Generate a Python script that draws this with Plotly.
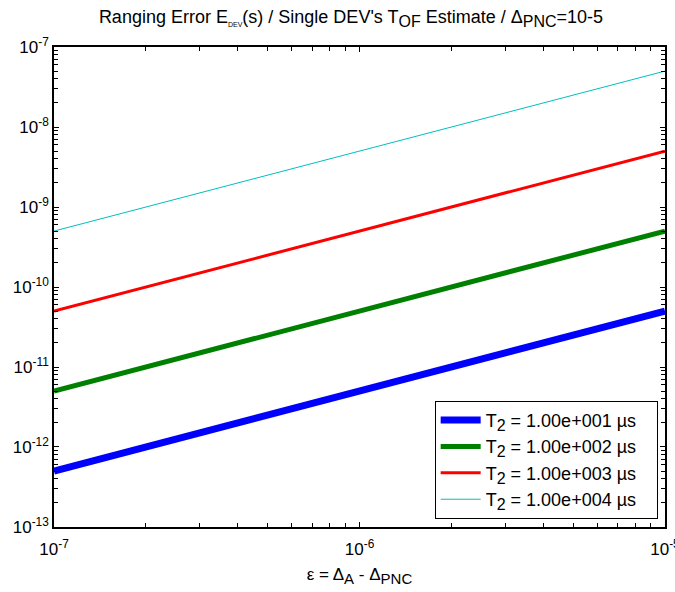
import plotly.graph_objects as go

# Mismatch epsilon = Delta_A - Delta_PNC (dimensionless)
eps = [1e-7, 1e-6, 1e-5]

# Ranging error E_DEV (s) for each reply time T2
err_t2_1e1 = [5e-13, 5e-12, 5e-11]
err_t2_1e2 = [5e-12, 5e-11, 5e-10]
err_t2_1e3 = [5e-11, 5e-10, 5e-9]
err_t2_1e4 = [5e-10, 5e-9, 5e-8]

SUB2 = "<sub><span style='font-size:16px'>2</span></sub>"
PAD = "\u00a0\u00a0\u00a0"
series_labels = [
    "T" + SUB2 + " = 1.00e+001 \u00b5s" + PAD,
    "T" + SUB2 + " = 1.00e+002 \u00b5s" + PAD,
    "T" + SUB2 + " = 1.00e+003 \u00b5s" + PAD,
    "T" + SUB2 + " = 1.00e+004 \u00b5s" + PAD,
]
series_values = [err_t2_1e1, err_t2_1e2, err_t2_1e3, err_t2_1e4]
series_colors = ["#0000FF", "#008000", "#FF0000", "#00BFBF"]
series_widths = [7, 5, 3, 1]

x_major = [1e-7, 1e-6, 1e-5]
x_major_text = ["10<sup>-7</sup>", "10<sup>-6</sup>", "10<sup>-5</sup>"]
y_major = [1e-13, 1e-12, 1e-11, 1e-10, 1e-9, 1e-8, 1e-7]
y_major_text = ["10<sup>%d</sup>" % e for e in range(-13, -6)]

x_minor = [m * 10.0 ** e for e in (-7, -6) for m in range(2, 10)]
y_minor = [m * 10.0 ** e for e in range(-13, -7) for m in range(2, 10)]

FONT = "Liberation Sans, Arial, Helvetica, sans-serif"

fig = go.Figure()
for label, vals, col, w in zip(series_labels, series_values, series_colors, series_widths):
    fig.add_trace(go.Scatter(
        x=eps, y=vals, mode="lines", name=label,
        line=dict(color=col, width=w),
    ))

axis_common = dict(
    type="log",
    automargin=False,
    showgrid=False,
    zeroline=False,
    showline=True,
    linecolor="black",
    linewidth=1.5,
    mirror="allticks",
    ticks="inside",
    ticklen=5,
    tickwidth=1,
    tickcolor="black",
    tickmode="array",
    ticklabeloverflow="allow",
    tickfont=dict(family=FONT, size=17, color="black"),
)

fig.update_xaxes(
    **axis_common,
    range=[-7.0001, -4.9999],
    tickvals=x_major,
    ticktext=x_major_text,
    ticklabelstandoff=6,
    minor=dict(tickmode="array", tickvals=x_minor, ticklen=4, tickwidth=1,
               tickcolor="black", ticks="inside"),
    title=dict(
        text="\u03b5 = \u0394<sub><span style='font-size:15px'>A</span></sub>"
             " - \u0394<sub><span style='font-size:15px'>PNC</span></sub>",
        font=dict(family=FONT, size=17, color="black"), standoff=10),
)
fig.update_yaxes(
    **axis_common,
    range=[-13.0001, -6.9999],
    tickvals=y_major,
    ticktext=y_major_text,
    minor=dict(tickmode="array", tickvals=y_minor, ticklen=4, tickwidth=1,
               tickcolor="black", ticks="inside"),
)

title_text = (
    "Ranging Error E<sub><span style='font-size:7px'>DEV</span></sub>(s)"
    " / Single DEV's T<sub><span style='font-size:16px'>OF</span></sub> Estimate"
    " / \u0394<sub><span style='font-size:16px'>PNC</span></sub>=10-5"
)

fig.update_layout(
    width=675,
    height=592,
    margin=dict(l=54, r=10, t=47, b=65),
    paper_bgcolor="white",
    plot_bgcolor="white",
    font=dict(family=FONT, size=17, color="black"),
    title=dict(
        text=title_text,
        font=dict(family=FONT, size=18, color="black"),
        x=0.52, xanchor="center", y=0.972, yanchor="middle",
    ),
    showlegend=True,
    legend=dict(
        x=0.988, xanchor="right", y=0.017, yanchor="bottom",
        bgcolor="white", bordercolor="black", borderwidth=1,
        font=dict(family=FONT, size=18, color="black"),
        itemwidth=40,
        tracegroupgap=0,
    ),
)

fig.write_html("out.html")
